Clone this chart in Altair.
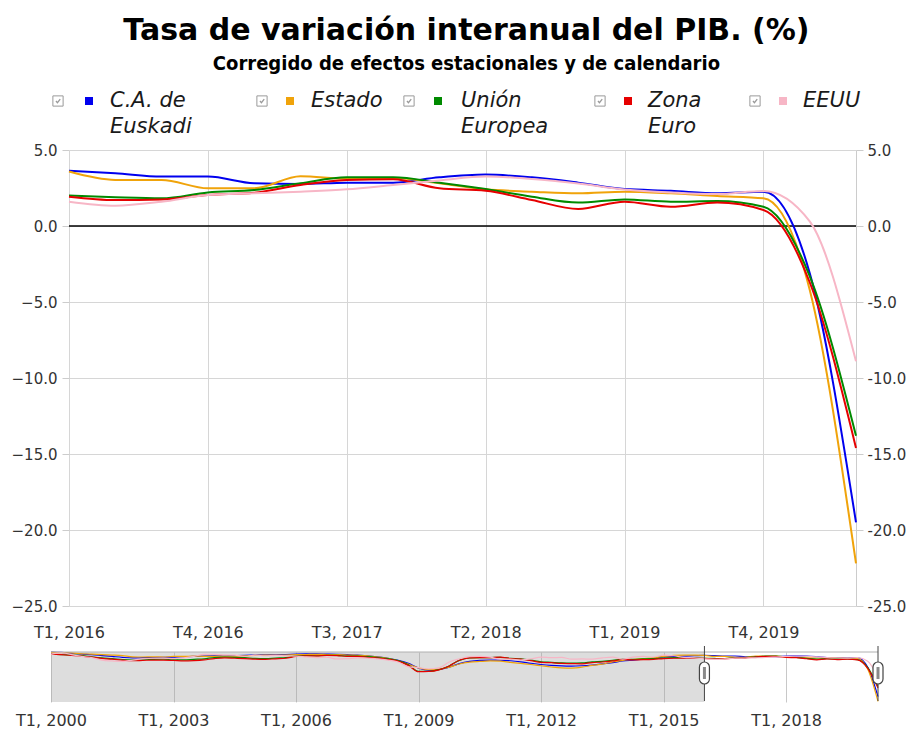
import altair as alt
import pandas as pd

# ---------------- data ----------------
series = ["C.A. de Euskadi", "Estado", "Unión Europea", "Zona Euro", "EEUU"]
legend_labels = ["C.A. de\nEuskadi", "Estado", "Unión\nEuropea", "Zona\nEuro", "EEUU"]
colors = ["#0000ee", "#f0a30a", "#008a00", "#e60000", "#f7b6c6"]

nav_start = 2000.0        # first quarter of the series (T1 2000)
main_start = 2016.0       # first quarter shown in the main plot (T1 2016)
main_ticks = [2016, 2016.75, 2017.5, 2018.25, 2019, 2019.75]
nav_ticks = [2000, 2003, 2006, 2009, 2012, 2015, 2018]
y_ticks = [-25, -20, -15, -10, -5, 0, 5]

# T1 2000 - T4 2015 (only visible in the navigator)
hist_euskadi = [5.5, 5.3, 4.8, 4.3, 4.0, 3.5, 3.0, 2.5, 2.2, 2.3, 2.4, 2.5, 2.6, 2.8, 3.0, 3.2,
                3.3, 3.4, 3.5, 3.6, 3.8, 3.9, 4.0, 4.1, 4.3, 4.4, 4.4, 4.3, 4.2, 4.0, 3.7, 3.4,
                2.8, 2.0, 0.8, -0.9, -3.5, -4.6, -4.3, -3.0, -1.0, 0.2, 0.8, 1.0, 1.0, 0.6, 0.0, -0.8,
                -1.5, -2.0, -2.3, -2.4, -2.2, -1.8, -1.2, -0.5, 0.5, 1.0, 1.5, 2.0, 2.8, 3.0, 3.2, 3.4]
hist_estado = [5.3, 5.2, 5.0, 4.5, 4.3, 4.0, 3.8, 3.5, 2.8, 2.7, 2.8, 2.7, 3.0, 3.0, 3.2, 3.1,
               3.1, 3.2, 3.2, 3.3, 3.6, 3.7, 3.7, 3.8, 4.0, 4.1, 4.2, 4.1, 4.0, 3.8, 3.6, 3.3,
               2.7, 1.9, 0.5, -1.3, -3.4, -4.3, -4.1, -3.0, -1.2, -0.2, 0.2, 0.5, 0.4, -0.3, -0.9, -1.5,
               -2.2, -2.9, -3.4, -3.5, -3.0, -2.0, -1.3, -0.1, 0.8, 1.3, 1.8, 2.2, 3.0, 3.6, 3.8, 3.8]
hist_ue = [4.2, 4.0, 3.8, 3.5, 2.8, 2.2, 1.8, 1.3, 1.1, 1.2, 1.4, 1.5, 1.2, 1.1, 1.4, 1.7,
           2.4, 2.6, 2.5, 2.3, 1.9, 1.8, 2.1, 2.3, 3.3, 3.5, 3.4, 3.6, 3.6, 3.2, 3.2, 2.9,
           2.4, 1.8, 0.7, -1.7, -5.4, -5.3, -4.4, -2.3, 0.8, 2.2, 2.4, 2.4, 2.5, 1.9, 1.6, 0.9,
           0.0, -0.3, -0.6, -0.7, -0.6, 0.0, 0.3, 0.8, 1.5, 1.4, 1.6, 1.8, 2.1, 2.3, 2.4, 2.3]
hist_euro = [4.3, 4.0, 3.6, 3.2, 2.6, 1.9, 1.5, 0.9, 0.6, 0.8, 1.0, 1.0, 0.8, 0.5, 0.7, 1.1,
             1.8, 2.2, 2.0, 1.8, 1.5, 1.4, 1.7, 2.0, 3.0, 3.3, 3.3, 3.6, 3.5, 3.0, 3.0, 2.5,
             2.1, 1.4, 0.4, -2.0, -5.5, -5.4, -4.5, -2.3, 0.9, 2.2, 2.3, 2.3, 2.6, 1.8, 1.5, 0.7,
             -0.3, -0.5, -0.9, -1.0, -1.1, -0.4, -0.1, 0.5, 1.3, 1.1, 1.2, 1.4, 1.8, 2.0, 2.0, 2.1]
hist_eeuu = [4.2, 5.2, 4.0, 3.0, 2.3, 1.0, 0.5, 0.2, 1.0, 1.6, 2.0, 2.1, 1.8, 2.2, 3.0, 4.2,
             4.2, 3.9, 3.7, 3.1, 3.7, 3.4, 3.6, 3.3, 3.2, 2.8, 2.4, 2.6, 1.6, 1.8, 2.2, 2.1,
             1.6, 1.0, -0.1, -2.8, -3.3, -4.0, -3.4, -0.1, 1.7, 2.9, 3.0, 2.6, 1.5, 1.5, 1.0, 1.6,
             2.6, 2.3, 2.5, 1.5, 1.6, 1.5, 2.2, 2.6, 1.5, 2.6, 3.0, 2.7, 3.8, 3.4, 2.5, 2.2]

# T1 2016 - T2 2020 (main plot)
main_euskadi = [3.64, 3.47, 3.25, 3.25, 2.81, 2.76, 2.85, 2.85, 3.20, 3.38, 3.20, 2.85, 2.43, 2.32, 2.15, 2.26, -3.1, -19.5]
main_estado = [3.58, 3.03, 3.03, 2.48, 2.48, 3.27, 3.1, 3.15, 2.81, 2.41, 2.26, 2.15, 2.26, 2.15, 1.97, 1.82, -4.2, -22.2]
main_ue = [2.0, 1.89, 1.82, 2.21, 2.37, 2.81, 3.20, 3.20, 2.85, 2.43, 1.93, 1.54, 1.75, 1.6, 1.64, 1.27, -3.3, -13.8]
main_euro = [1.93, 1.71, 1.75, 2.04, 2.19, 2.70, 3.03, 3.07, 2.48, 2.32, 1.71, 1.12, 1.6, 1.27, 1.54, 1.05, -3.7, -14.6]
main_eeuu = [1.6, 1.34, 1.6, 2.04, 2.15, 2.26, 2.41, 2.7, 3.0, 3.25, 3.1, 2.8, 2.4, 2.2, 2.1, 2.3, 0.3, -8.9]

hist = [hist_euskadi, hist_estado, hist_ue, hist_euro, hist_eeuu]
main = [main_euskadi, main_estado, main_ue, main_euro, main_eeuu]

main_t = [main_start + i / 4 for i in range(len(main_euskadi))]
full_t = [nav_start + i / 4 for i in range(len(hist_euskadi) + len(main_euskadi))]
end_t = main_t[-1]

# ---------------- styles ----------------
FONT = "DejaVu Sans"
label_expr = "'T' + (round((datum.value - floor(datum.value)) * 4) + 1) + ', ' + floor(datum.value)"
right_label_expr = "(datum.value < 0 ? '-' : '') + format(abs(datum.value), '.1f')"
GRID = "#d6d6d6"

xsc = alt.Scale(domain=[main_start, end_t], nice=False, zero=False)
ysc = alt.Scale(domain=[-25, 5], nice=False, zero=False)

xaxis = alt.Axis(values=main_ticks, labelExpr=label_expr, grid=True, gridColor=GRID, ticks=False,
                 domain=False, labelFont=FONT, labelFontSize=16, labelColor="#333333",
                 labelPadding=18, labelFlush=False, labelOverlap=False, title=None)
yaxis_left = alt.Axis(values=y_ticks, format=".1f", orient="left", grid=True, gridColor=GRID,
                      tickSize=7, tickColor="#cccccc", domain=False, labelFont=FONT, labelFontSize=15,
                      labelColor="#333333", labelPadding=5, title=None)
yaxis_right = alt.Axis(values=y_ticks, labelExpr=right_label_expr, orient="right", grid=False,
                       tickSize=7, tickColor="#cccccc", domain=True, domainColor="#cccccc",
                       labelFont=FONT, labelFontSize=15, labelColor="#333333", labelPadding=4, title=None)

# ---------------- main plot ----------------
layers = []
zero_df = pd.DataFrame({"v": [0]})
layers.append(alt.Chart(zero_df).mark_rule(color="black", strokeWidth=1.5).encode(
    y=alt.Y("v:Q", scale=ysc, axis=yaxis_right)))

for i, (name, vals, col) in enumerate(zip(series, main, colors)):
    df = pd.DataFrame({"t": main_t, "v": vals, "serie": name})
    layers.append(alt.Chart(df).mark_line(interpolate="monotone", strokeWidth=2, color=col).encode(
        x=alt.X("t:Q", scale=xsc, axis=xaxis),
        y=alt.Y("v:Q", scale=ysc, axis=yaxis_left if i == 0 else None)))

# legend (checkbox, colour square, italic label)
cb_x = [-11, 193, 340, 531, 686]
sq_x = [20, 221, 369, 559, 714]
tx_x = [41, 242, 392, 579, 734]
for i, (lab, col) in enumerate(zip(legend_labels, colors)):
    ldf = pd.DataFrame({"label": [lab]})
    base = alt.Chart(ldf)
    layers.append(base.mark_square(size=105, filled=False, color="#707070", strokeWidth=1).encode(
        x=alt.value(cb_x[i]), y=alt.value(-49)))
    layers.append(base.mark_point(shape="M-0.55,0 L-0.15,0.45 L0.6,-0.5", filled=False, size=55,
                                  color="#707070", strokeWidth=1.3).encode(
        x=alt.value(cb_x[i]), y=alt.value(-49)))
    layers.append(base.mark_square(size=64, filled=True, color=col, opacity=1).encode(
        x=alt.value(sq_x[i]), y=alt.value(-49)))
    layers.append(base.mark_text(align="left", baseline="alphabetic", font=FONT, fontStyle="italic",
                                 fontSize=21, lineBreak="\n", lineHeight=26, color="#1a1a1a").encode(
        text="label:N", x=alt.value(tx_x[i]), y=alt.value(-43)))

main_chart = alt.layer(*layers).resolve_scale(y="independent").resolve_axis(y="independent").properties(
    width=787, height=456)

# ---------------- navigator ----------------
nxsc = alt.Scale(domain=[nav_start, end_t], range=[-18, 809], nice=False, zero=False)
nysc = alt.Scale(domain=[-22.5, 5.5], nice=False, zero=False)
nav_axis = alt.Axis(values=nav_ticks, labelExpr=label_expr, grid=True, gridColor="#c8c8c8", ticks=False,
                    domain=False, labelFont=FONT, labelFontSize=16, labelColor="#333333",
                    labelPadding=10, labelFlush=False, labelOverlap=False, title=None)

nav_rows = []
for name, h, m in zip(series, hist, main):
    for t, v in zip(full_t, h + m):
        nav_rows.append({"t": t, "v": v, "serie": name})
nav_df = pd.DataFrame(nav_rows)

mask_df = pd.DataFrame({"a": [nav_start], "b": [main_start]})
outline_df = pd.DataFrame({"a": [nav_start], "b": [end_t]})
handle_df = pd.DataFrame({"h": [main_start, end_t]})

mask = alt.Chart(mask_df).mark_rect(color="#a0a0a0", opacity=0.36).encode(
    x=alt.X("a:Q", scale=nxsc, axis=nav_axis), x2="b:Q", y=alt.value(0), y2=alt.value(50))
nav_lines = alt.Chart(nav_df).mark_line(interpolate="monotone", strokeWidth=1.2).encode(
    x=alt.X("t:Q", scale=nxsc, axis=nav_axis),
    y=alt.Y("v:Q", scale=nysc, axis=None),
    color=alt.Color("serie:N", scale=alt.Scale(domain=series, range=colors), legend=None),
    order=alt.Order("t:Q"))
outline = alt.Chart(outline_df).mark_rule(color="#b0b0b0", strokeWidth=1).encode(
    x=alt.X("a:Q", scale=nxsc, axis=nav_axis), x2="b:Q", y=alt.value(0))
h_rule = alt.Chart(handle_df).mark_rule(color="#444444", strokeWidth=1).encode(
    x=alt.X("h:Q", scale=nxsc, axis=nav_axis), y=alt.value(-6), y2=alt.value(49))
h_box = alt.Chart(handle_df).mark_rect(fill="white", stroke="#444444", strokeWidth=1.2, cornerRadius=5,
                                       xOffset=-5, x2Offset=5).encode(
    x=alt.X("h:Q", scale=nxsc, axis=nav_axis), x2="h:Q", y=alt.value(10), y2=alt.value(32))
h_bar = alt.Chart(handle_df).mark_rect(color="#8a8a8a", xOffset=-1.5, x2Offset=1.5).encode(
    x=alt.X("h:Q", scale=nxsc, axis=nav_axis), x2="h:Q", y=alt.value(15), y2=alt.value(27))

nav_chart = alt.layer(mask, nav_lines, outline, h_rule, h_box, h_bar).properties(width=787, height=50)

# ---------------- compose ----------------
chart = alt.vconcat(main_chart, nav_chart, spacing=46, bounds="flush").properties(
    title=alt.TitleParams(
        text="Tasa de variación interanual del PIB. (%)",
        subtitle="Corregido de efectos estacionales y de calendario",
        anchor="middle", font=FONT, fontSize=30, fontWeight="bold", color="#000000",
        subtitleFont="DejaVu Sans Condensed", subtitleFontSize=20, subtitleFontWeight="bold",
        subtitleColor="#000000", subtitlePadding=8, offset=16, dx=8),
    padding={"left": 2, "top": 7, "right": 0, "bottom": 0},
).configure_view(stroke="transparent")

chart.save("out.html", embed_options={"renderer": "svg", "actions": False})
